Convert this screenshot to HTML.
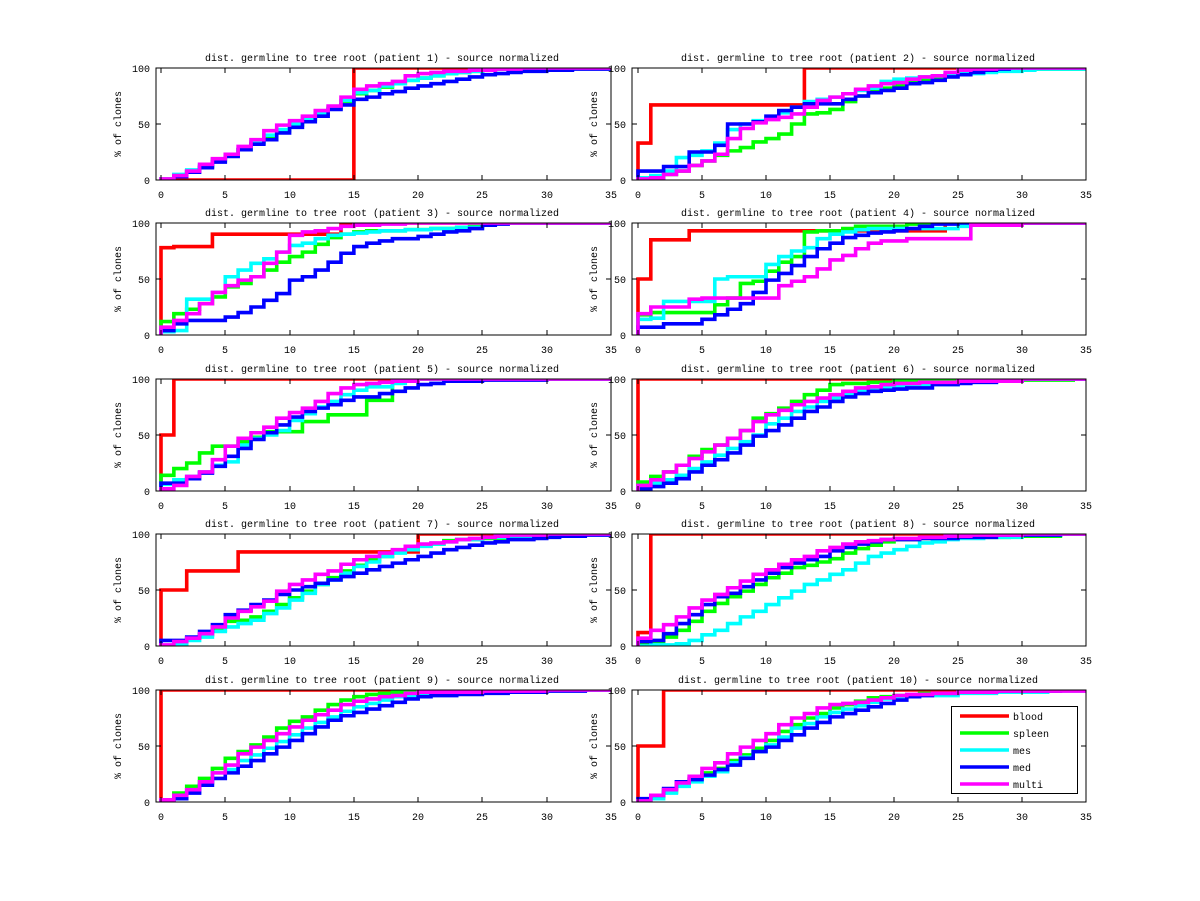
<!DOCTYPE html>
<html><head><meta charset="utf-8"><style>
html,body{margin:0;padding:0;background:#fff;width:1200px;height:901px;overflow:hidden}
svg{display:block}
text{font-family:"Liberation Mono","DejaVu Sans Mono",monospace;font-size:10px;fill:#000}
.c path{fill:none;stroke-width:3.6;vector-effect:non-scaling-stroke;stroke-linejoin:miter;stroke-linecap:butt}
.r{stroke:#f00}.g{stroke:#0f0}.cy{stroke:#0ff}.b{stroke:#00f}.m{stroke:#f0f}
.ax{fill:none;stroke:#000;stroke-width:1;shape-rendering:crispEdges}
.xl text{text-anchor:middle}
.yl text{text-anchor:end}
.tt{text-anchor:middle}
</style></head><body>
<svg width="1200" height="901" viewBox="0 0 1200 901" xmlns="http://www.w3.org/2000/svg">
<defs>
<clipPath id="c1"><rect x="156" y="68" width="455" height="112"/></clipPath>
<clipPath id="c2"><rect x="632" y="68" width="454" height="112"/></clipPath>
<clipPath id="c3"><rect x="156" y="223" width="455" height="112"/></clipPath>
<clipPath id="c4"><rect x="632" y="223" width="454" height="112"/></clipPath>
<clipPath id="c5"><rect x="156" y="379" width="455" height="112"/></clipPath>
<clipPath id="c6"><rect x="632" y="379" width="454" height="112"/></clipPath>
<clipPath id="c7"><rect x="156" y="534" width="455" height="112"/></clipPath>
<clipPath id="c8"><rect x="632" y="534" width="454" height="112"/></clipPath>
<clipPath id="c9"><rect x="156" y="690" width="455" height="112"/></clipPath>
<clipPath id="c10"><rect x="632" y="690" width="454" height="112"/></clipPath>
<g id="axL">
<rect class="ax" x="156" y="0" width="455" height="112"/>
<path class="ax" d="M161 112v-5M161 0v5M225 112v-5M225 0v5M290 112v-5M290 0v5M354 112v-5M354 0v5M418 112v-5M418 0v5M482 112v-5M482 0v5M547 112v-5M547 0v5M156 112h5M156 56h5M156 0h5M611 112h-5M611 56h-5M611 0h-5"/>
</g>
<g id="axR">
<rect class="ax" x="632" y="0" width="454" height="112"/>
<path class="ax" d="M638 112v-5M638 0v5M702 112v-5M702 0v5M766 112v-5M766 0v5M830 112v-5M830 0v5M894 112v-5M894 0v5M958 112v-5M958 0v5M1022 112v-5M1022 0v5M632 112h5M632 56h5M632 0h5M1086 112h-5M1086 56h-5M1086 0h-5"/>
</g>
</defs>

<!-- Panel 1 -->
<g clip-path="url(#c1)"><g class="c" transform="translate(161,180) scale(12.857,-1.12)">
<path class="r" d="M0 0H15V100H35"/>
<path class="g" d="M0 0V1H1V4H2V8H3V12H4V17H5V22H6V27H7V33H8V39H9V44H10V49H11V54H12V59H13V64H14V70H15V77H16V80H17V83H18V86H19V89H20V91H21V93H22V95H23V96H24V97H25V98H26V99H28V100H35"/>
<path class="cy" d="M0 0V1H1V5H2V9H3V13H4V18H5V23H6V28H7V34H8V40H9V45H10V50H11V55H12V60H13V65H14V71H15V78H16V80H17V84H18V86H19V89H20V91H21V93H22V95H23V96H24V97H25V98H26V99H28V100H35"/>
<path class="b" d="M0 0H1V3H2V7H3V11H4V16H5V21H6V27H7V32H8V36H9V42H10V47H11V52H12V57H13V63H14V67H15V72H16V74H17V77H18V79H19V82H20V84H21V86H22V88H23V90H24V92H25V94H26V95H27V96H28V97H30V98H32V99H35"/>
<path class="m" d="M0 0V1H1V4H2V8H3V14H4V19H5V23H6V30H7V36H8V44H9V49H10V53H11V57H12V62H13V66H14V74H15V81H16V84H17V86H18V88H19V93H20V95H21V96H22V97H24V98H26V99H28V100H35"/>
</g></g>
<use href="#axL" transform="translate(0,68)"/>
<text class="tt" x="382" y="61">dist. germline to tree root (patient 1) - source normalized</text>
<g class="yl"><text x="150" y="72">100</text><text x="150" y="128">50</text><text x="150" y="184">0</text></g>
<g class="xl"><text x="161" y="198">0</text><text x="225" y="198">5</text><text x="290" y="198">10</text><text x="354" y="198">15</text><text x="418" y="198">20</text><text x="482" y="198">25</text><text x="547" y="198">30</text><text x="611" y="198">35</text></g>
<text class="tt" transform="translate(121,124) rotate(-90)">% of clones</text>

<!-- Panel 2 -->
<g clip-path="url(#c2)"><g class="c" transform="translate(638,180) scale(12.8,-1.12)">
<path class="r" d="M0 0V33H1V67H13V100H35"/>
<path class="g" d="M0 0H1V2H2V5H3V8H4V13H5V17H6V22H7V26H8V29H9V34H10V37H11V41H12V50H13V59H14V60H15V63H16V70H17V75H18V79H19V82H20V85H21V87H22V89H23V92H24V94H25V96H26V97H27V98H28V99H35"/>
<path class="cy" d="M0 0V2H1V4H2V8H3V20H4V22H5V26H6V33H7V45H8V50H9V53H10V56H11V60H12V65H13V70H14V72H15V74H16V77H17V80H18V82H19V88H20V90H21V91H22V92H23V93H24V94H25V95H27V96H28V97H30V98H31V99H35"/>
<path class="b" d="M0 0V8H2V12H4V25H6V31H7V50H9V52H10V57H11V62H12V65H13V68H16V72H17V75H18V78H19V80H20V82H21V86H22V87H23V89H24V92H25V94H26V96H27V98H28V99H29V100H35"/>
<path class="m" d="M0 0V1H1V2H2V5H3V8H4V13H5V17H6V23H7V37H8V46H9V51H10V54H11V56H12V59H13V65H14V71H15V74H16V77H17V81H18V84H19V86H20V87H21V90H22V92H23V93H24V96H25V98H26V99H28V100H35"/>
</g></g>
<use href="#axR" transform="translate(0,68)"/>
<text class="tt" x="858" y="61">dist. germline to tree root (patient 2) - source normalized</text>
<g class="yl"><text x="626" y="72">100</text><text x="626" y="128">50</text><text x="626" y="184">0</text></g>
<g class="xl"><text x="638" y="198">0</text><text x="702" y="198">5</text><text x="766" y="198">10</text><text x="830" y="198">15</text><text x="894" y="198">20</text><text x="958" y="198">25</text><text x="1022" y="198">30</text><text x="1086" y="198">35</text></g>
<text class="tt" transform="translate(597,124) rotate(-90)">% of clones</text>

<!-- Panel 3 -->
<g clip-path="url(#c3)"><g class="c" transform="translate(161,335) scale(12.857,-1.12)">
<path class="r" d="M0 0V78H1V79H4V90H14V100H35"/>
<path class="g" d="M0 0V12H1V19H2V23H3V28H4V34H5V43H6V46H7V52H8V58H9V65H10V70H11V74H12V81H13V87H14V90H15V92H16V93H19V94H21V95H23V96H24V97H25V100H35"/>
<path class="cy" d="M0 0V3H1V4H2V32H4V38H5V52H6V58H7V64H8V68H9V74H10V80H11V82H12V86H13V89H14V90H15V91H16V92H17V93H19V94H21V95H23V96H25V100H35"/>
<path class="b" d="M0 0V4H1V10H2V13H5V16H6V20H7V25H8V31H9V37H10V49H11V52H12V58H13V65H14V73H15V79H16V82H17V84H18V86H20V88H21V90H22V92H23V93H24V95H25V98H26V99H27V100H35"/>
<path class="m" d="M0 0V7H1V13H2V19H3V28H4V38H5V44H6V49H7V52H8V64H9V74H10V89H11V92H12V93H13V95H14V97H15V98H17V99H19V100H35"/>
</g></g>
<use href="#axL" transform="translate(0,223)"/>
<text class="tt" x="382" y="216">dist. germline to tree root (patient 3) - source normalized</text>
<g class="yl"><text x="150" y="227">100</text><text x="150" y="283">50</text><text x="150" y="339">0</text></g>
<g class="xl"><text x="161" y="353">0</text><text x="225" y="353">5</text><text x="290" y="353">10</text><text x="354" y="353">15</text><text x="418" y="353">20</text><text x="482" y="353">25</text><text x="547" y="353">30</text><text x="611" y="353">35</text></g>
<text class="tt" transform="translate(121,279) rotate(-90)">% of clones</text>

<!-- Panel 4 -->
<g clip-path="url(#c4)"><g class="c" transform="translate(638,335) scale(12.8,-1.12)">
<path class="r" d="M0 0V50H1V85H4V93H24V100H35"/>
<path class="g" d="M0 0V18H1V20H6V27H7V33H8V46H9V48H10V57H11V65H12V70H13V92H14V93H16V95H17V97H21V99H22V100H35"/>
<path class="cy" d="M0 0V14H1V15H2V30H6V50H7V52H10V63H11V70H12V75H13V78H14V86H15V90H16V92H17V94H18V95H25V97H26V100H35"/>
<path class="b" d="M0 0V7H2V10H5V14H6V18H7V23H8V28H9V38H10V49H11V55H12V62H13V70H14V77H15V82H16V87H17V89H18V91H19V92H20V93H21V95H22V97H23V99H25V100H35"/>
<path class="m" d="M0 0V19H1V25H4V32H5V33H11V44H12V48H13V52H14V59H15V67H16V71H17V77H18V82H19V84H21V86H26V98H30V100H35"/>
</g></g>
<use href="#axR" transform="translate(0,223)"/>
<text class="tt" x="858" y="216">dist. germline to tree root (patient 4) - source normalized</text>
<g class="yl"><text x="626" y="227">100</text><text x="626" y="283">50</text><text x="626" y="339">0</text></g>
<g class="xl"><text x="638" y="353">0</text><text x="702" y="353">5</text><text x="766" y="353">10</text><text x="830" y="353">15</text><text x="894" y="353">20</text><text x="958" y="353">25</text><text x="1022" y="353">30</text><text x="1086" y="353">35</text></g>
<text class="tt" transform="translate(597,279) rotate(-90)">% of clones</text>

<!-- Panel 5 -->
<g clip-path="url(#c5)"><g class="c" transform="translate(161,491) scale(12.857,-1.12)">
<path class="r" d="M0 0V50H1V100H35"/>
<path class="g" d="M0 0V14H1V20H2V25H3V34H4V40H6V44H7V48H8V53H11V62H13V68H16V81H18V98H19V99H20V100H35"/>
<path class="cy" d="M0 0V6H1V10H2V13H3V17H4V23H5V26H6V41H7V47H8V50H9V54H10V63H11V69H12V75H13V80H14V86H15V90H16V93H18V96H19V98H20V100H35"/>
<path class="b" d="M0 0V7H2V11H3V16H4V22H5V31H6V38H7V46H8V52H9V59H10V66H11V71H12V74H13V77H14V81H15V84H17V87H18V89H19V92H20V95H21V96H22V98H25V99H30V100H35"/>
<path class="m" d="M0 0V2H1V5H2V13H3V17H4V28H5V40H6V47H7V52H8V57H9V65H10V70H11V74H12V80H13V87H14V92H15V95H16V96H17V97H18V98H20V100H35"/>
</g></g>
<use href="#axL" transform="translate(0,379)"/>
<text class="tt" x="382" y="372">dist. germline to tree root (patient 5) - source normalized</text>
<g class="yl"><text x="150" y="383">100</text><text x="150" y="439">50</text><text x="150" y="495">0</text></g>
<g class="xl"><text x="161" y="509">0</text><text x="225" y="509">5</text><text x="290" y="509">10</text><text x="354" y="509">15</text><text x="418" y="509">20</text><text x="482" y="509">25</text><text x="547" y="509">30</text><text x="611" y="509">35</text></g>
<text class="tt" transform="translate(121,435) rotate(-90)">% of clones</text>

<!-- Panel 6 -->
<g clip-path="url(#c6)"><g class="c" transform="translate(638,491) scale(12.8,-1.12)">
<path class="r" d="M0 0V100H35"/>
<path class="g" d="M0 0V8H1V13H2V17H3V23H4V31H5V37H6V41H7V47H8V54H9V65H10V69H11V74H12V80H13V86H14V90H15V95H16V96H18V97H20V98H25V99H34V100H35"/>
<path class="cy" d="M0 0V4H1V7H2V10H3V14H4V20H5V26H6V32H7V38H8V44H9V50H10V60H11V65H12V71H13V75H14V80H15V83H16V86H17V89H18V92H19V93H20V94H22V95H25V97H28V98H30V100H35"/>
<path class="b" d="M0 0V2H1V4H2V7H3V11H4V17H5V23H6V28H7V34H8V41H9V49H10V54H11V59H12V65H13V71H14V75H15V80H16V84H17V87H18V89H19V90H20V91H21V92H23V95H25V96H26V97H28V98H30V100H35"/>
<path class="m" d="M0 0V5H1V10H2V17H3V23H4V29H5V35H6V41H7V47H8V54H9V62H10V68H11V72H12V77H13V80H14V83H15V86H16V89H17V92H18V93H19V95H20V96H22V97H25V98H30V100H35"/>
</g></g>
<use href="#axR" transform="translate(0,379)"/>
<text class="tt" x="858" y="372">dist. germline to tree root (patient 6) - source normalized</text>
<g class="yl"><text x="626" y="383">100</text><text x="626" y="439">50</text><text x="626" y="495">0</text></g>
<g class="xl"><text x="638" y="509">0</text><text x="702" y="509">5</text><text x="766" y="509">10</text><text x="830" y="509">15</text><text x="894" y="509">20</text><text x="958" y="509">25</text><text x="1022" y="509">30</text><text x="1086" y="509">35</text></g>
<text class="tt" transform="translate(597,435) rotate(-90)">% of clones</text>

<!-- Panel 7 -->
<g clip-path="url(#c7)"><g class="c" transform="translate(161,646) scale(12.857,-1.12)">
<path class="r" d="M0 0V50H2V67H6V84H20V100H35"/>
<path class="g" d="M0 0H1V2H2V7H3V10H4V14H5V22H6V23H7V26H8V31H9V37H10V43H11V49H12V55H13V61H14V67H15V72H16V77H17V80H18V85H19V87H20V90H21V91H22V94H23V95H25V96H27V99H30V100H35"/>
<path class="cy" d="M0 0H1V2H2V5H3V8H4V13H5V17H6V20H7V23H8V29H9V34H10V41H11V47H12V55H13V59H14V65H15V71H16V75H17V80H18V83H19V86H20V89H21V91H22V93H23V95H25V97H27V98H30V100H35"/>
<path class="b" d="M0 0V5H2V8H3V13H4V19H5V28H6V32H7V37H8V41H9V46H10V50H11V53H12V56H13V59H14V62H15V65H16V68H17V71H18V74H19V77H20V80H21V83H22V86H23V88H24V90H25V92H26V93H27V95H29V96H30V97H31V98H33V99H35"/>
<path class="m" d="M0 0V1H1V4H2V7H3V11H4V17H5V25H6V31H7V35H8V40H9V49H10V55H11V59H12V64H13V67H14V73H15V77H16V80H17V83H18V86H19V89H20V91H21V92H22V93H23V95H24V96H25V97H26V98H27V99H30V100H35"/>
</g></g>
<use href="#axL" transform="translate(0,534)"/>
<text class="tt" x="382" y="527">dist. germline to tree root (patient 7) - source normalized</text>
<g class="yl"><text x="150" y="538">100</text><text x="150" y="594">50</text><text x="150" y="650">0</text></g>
<g class="xl"><text x="161" y="664">0</text><text x="225" y="664">5</text><text x="290" y="664">10</text><text x="354" y="664">15</text><text x="418" y="664">20</text><text x="482" y="664">25</text><text x="547" y="664">30</text><text x="611" y="664">35</text></g>
<text class="tt" transform="translate(121,590) rotate(-90)">% of clones</text>

<!-- Panel 8 -->
<g clip-path="url(#c8)"><g class="c" transform="translate(638,646) scale(12.8,-1.12)">
<path class="r" d="M0 0V12H1V100H35"/>
<path class="g" d="M0 0V2H1V4H2V8H3V14H4V22H5V31H6V38H7V44H8V49H9V55H10V61H11V65H12V70H13V72H14V75H15V78H16V83H17V87H18V90H19V93H20V95H22V96H25V97H29V98H33V100H35"/>
<path class="cy" d="M0 0H1V1H3V2H4V5H5V10H6V14H7V20H8V26H9V31H10V37H11V43H12V49H13V55H14V59H15V64H16V68H17V74H18V80H19V83H20V86H21V89H22V92H23V93H24V95H25V96H27V97H30V99H33V100H35"/>
<path class="b" d="M0 0V4H1V5H2V11H3V20H4V28H5V37H6V44H7V47H8V53H9V59H10V65H11V70H12V74H13V77H14V80H15V85H16V88H17V91H18V93H19V95H22V96H25V97H28V99H33V100H35"/>
<path class="m" d="M0 0V7H1V14H2V19H3V26H4V34H5V41H6V46H7V52H8V58H9V64H10V68H11V73H12V77H13V80H14V85H15V88H16V91H17V93H18V94H19V95H20V96H22V97H24V98H26V99H30V100H35"/>
</g></g>
<use href="#axR" transform="translate(0,534)"/>
<text class="tt" x="858" y="527">dist. germline to tree root (patient 8) - source normalized</text>
<g class="yl"><text x="626" y="538">100</text><text x="626" y="594">50</text><text x="626" y="650">0</text></g>
<g class="xl"><text x="638" y="664">0</text><text x="702" y="664">5</text><text x="766" y="664">10</text><text x="830" y="664">15</text><text x="894" y="664">20</text><text x="958" y="664">25</text><text x="1022" y="664">30</text><text x="1086" y="664">35</text></g>
<text class="tt" transform="translate(597,590) rotate(-90)">% of clones</text>

<!-- Panel 9 -->
<g clip-path="url(#c9)"><g class="c" transform="translate(161,802) scale(12.857,-1.12)">
<path class="r" d="M0 0V100H35"/>
<path class="g" d="M0 0V2H1V8H2V14H3V21H4V30H5V39H6V45H7V51H8V58H9V66H10V72H11V76H12V82H13V87H14V91H15V94H16V96H17V97H18V98H20V99H21V100H35"/>
<path class="cy" d="M0 0V2H1V5H2V9H3V17H4V26H5V29H6V37H7V42H8V48H9V54H10V60H11V66H12V71H13V76H14V81H15V85H16V88H17V91H18V94H19V95H20V97H25V98H30V100H35"/>
<path class="b" d="M0 0V1H1V3H2V8H3V15H4V21H5V26H6V32H7V37H8V43H9V49H10V55H11V61H12V67H13V73H14V77H15V80H16V83H17V86H18V89H19V92H20V94H21V95H23V96H25V97H27V98H30V99H33V100H35"/>
<path class="m" d="M0 0V2H1V6H2V11H3V18H4V26H5V33H6V43H7V49H8V55H9V61H10V67H11V73H12V78H13V82H14V87H15V90H16V92H17V94H18V95H19V97H20V98H25V99H30V100H35"/>
</g></g>
<use href="#axL" transform="translate(0,690)"/>
<text class="tt" x="382" y="683">dist. germline to tree root (patient 9) - source normalized</text>
<g class="yl"><text x="150" y="694">100</text><text x="150" y="750">50</text><text x="150" y="806">0</text></g>
<g class="xl"><text x="161" y="820">0</text><text x="225" y="820">5</text><text x="290" y="820">10</text><text x="354" y="820">15</text><text x="418" y="820">20</text><text x="482" y="820">25</text><text x="547" y="820">30</text><text x="611" y="820">35</text></g>
<text class="tt" transform="translate(121,746) rotate(-90)">% of clones</text>

<!-- Panel 10 -->
<g clip-path="url(#c10)"><g class="c" transform="translate(638,802) scale(12.8,-1.12)">
<path class="r" d="M0 0V50H2V100H35"/>
<path class="g" d="M0 0V1H1V5H2V9H3V15H4V21H5V26H6V30H7V37H8V42H9V48H10V55H11V63H12V69H13V75H14V79H15V84H16V87H17V90H18V93H19V94H20V95H22V97H25V98H30V100H35"/>
<path class="cy" d="M0 0H1V3H2V8H3V14H4V18H5V23H6V27H7V35H8V40H9V45H10V51H11V58H12V66H13V70H14V76H15V80H16V83H17V86H18V89H19V92H20V94H21V95H25V97H28V98H32V99H35"/>
<path class="b" d="M0 0V3H1V6H2V12H3V18H4V20H5V24H6V29H7V33H8V39H9V45H10V49H11V55H12V60H13V66H14V71H15V76H16V79H17V82H18V85H19V88H20V91H21V94H22V95H23V97H25V98H28V99H33V100H35"/>
<path class="m" d="M0 0V1H1V6H2V11H3V17H4V23H5V30H6V35H7V43H8V49H9V55H10V61H11V69H12V75H13V79H14V84H15V87H16V88H17V89H18V91H19V93H20V95H21V96H23V97H25V98H28V99H35"/>
</g></g>
<use href="#axR" transform="translate(0,690)"/>
<text class="tt" x="858" y="683">dist. germline to tree root (patient 10) - source normalized</text>
<g class="yl"><text x="626" y="694">100</text><text x="626" y="750">50</text><text x="626" y="806">0</text></g>
<g class="xl"><text x="638" y="820">0</text><text x="702" y="820">5</text><text x="766" y="820">10</text><text x="830" y="820">15</text><text x="894" y="820">20</text><text x="958" y="820">25</text><text x="1022" y="820">30</text><text x="1086" y="820">35</text></g>
<text class="tt" transform="translate(597,746) rotate(-90)">% of clones</text>

<!-- Legend -->
<rect x="951.5" y="706.5" width="126" height="87" fill="#fff" stroke="#000" stroke-width="1" shape-rendering="crispEdges"/>
<g stroke-width="3.6" fill="none">
<path d="M960 716H1009" stroke="#f00"/>
<path d="M960 733H1009" stroke="#0f0"/>
<path d="M960 750H1009" stroke="#0ff"/>
<path d="M960 767H1009" stroke="#00f"/>
<path d="M960 784H1009" stroke="#f0f"/>
</g>
<text x="1013" y="720">blood</text>
<text x="1013" y="737">spleen</text>
<text x="1013" y="754">mes</text>
<text x="1013" y="771">med</text>
<text x="1013" y="788">multi</text>
</svg>
</body></html>
